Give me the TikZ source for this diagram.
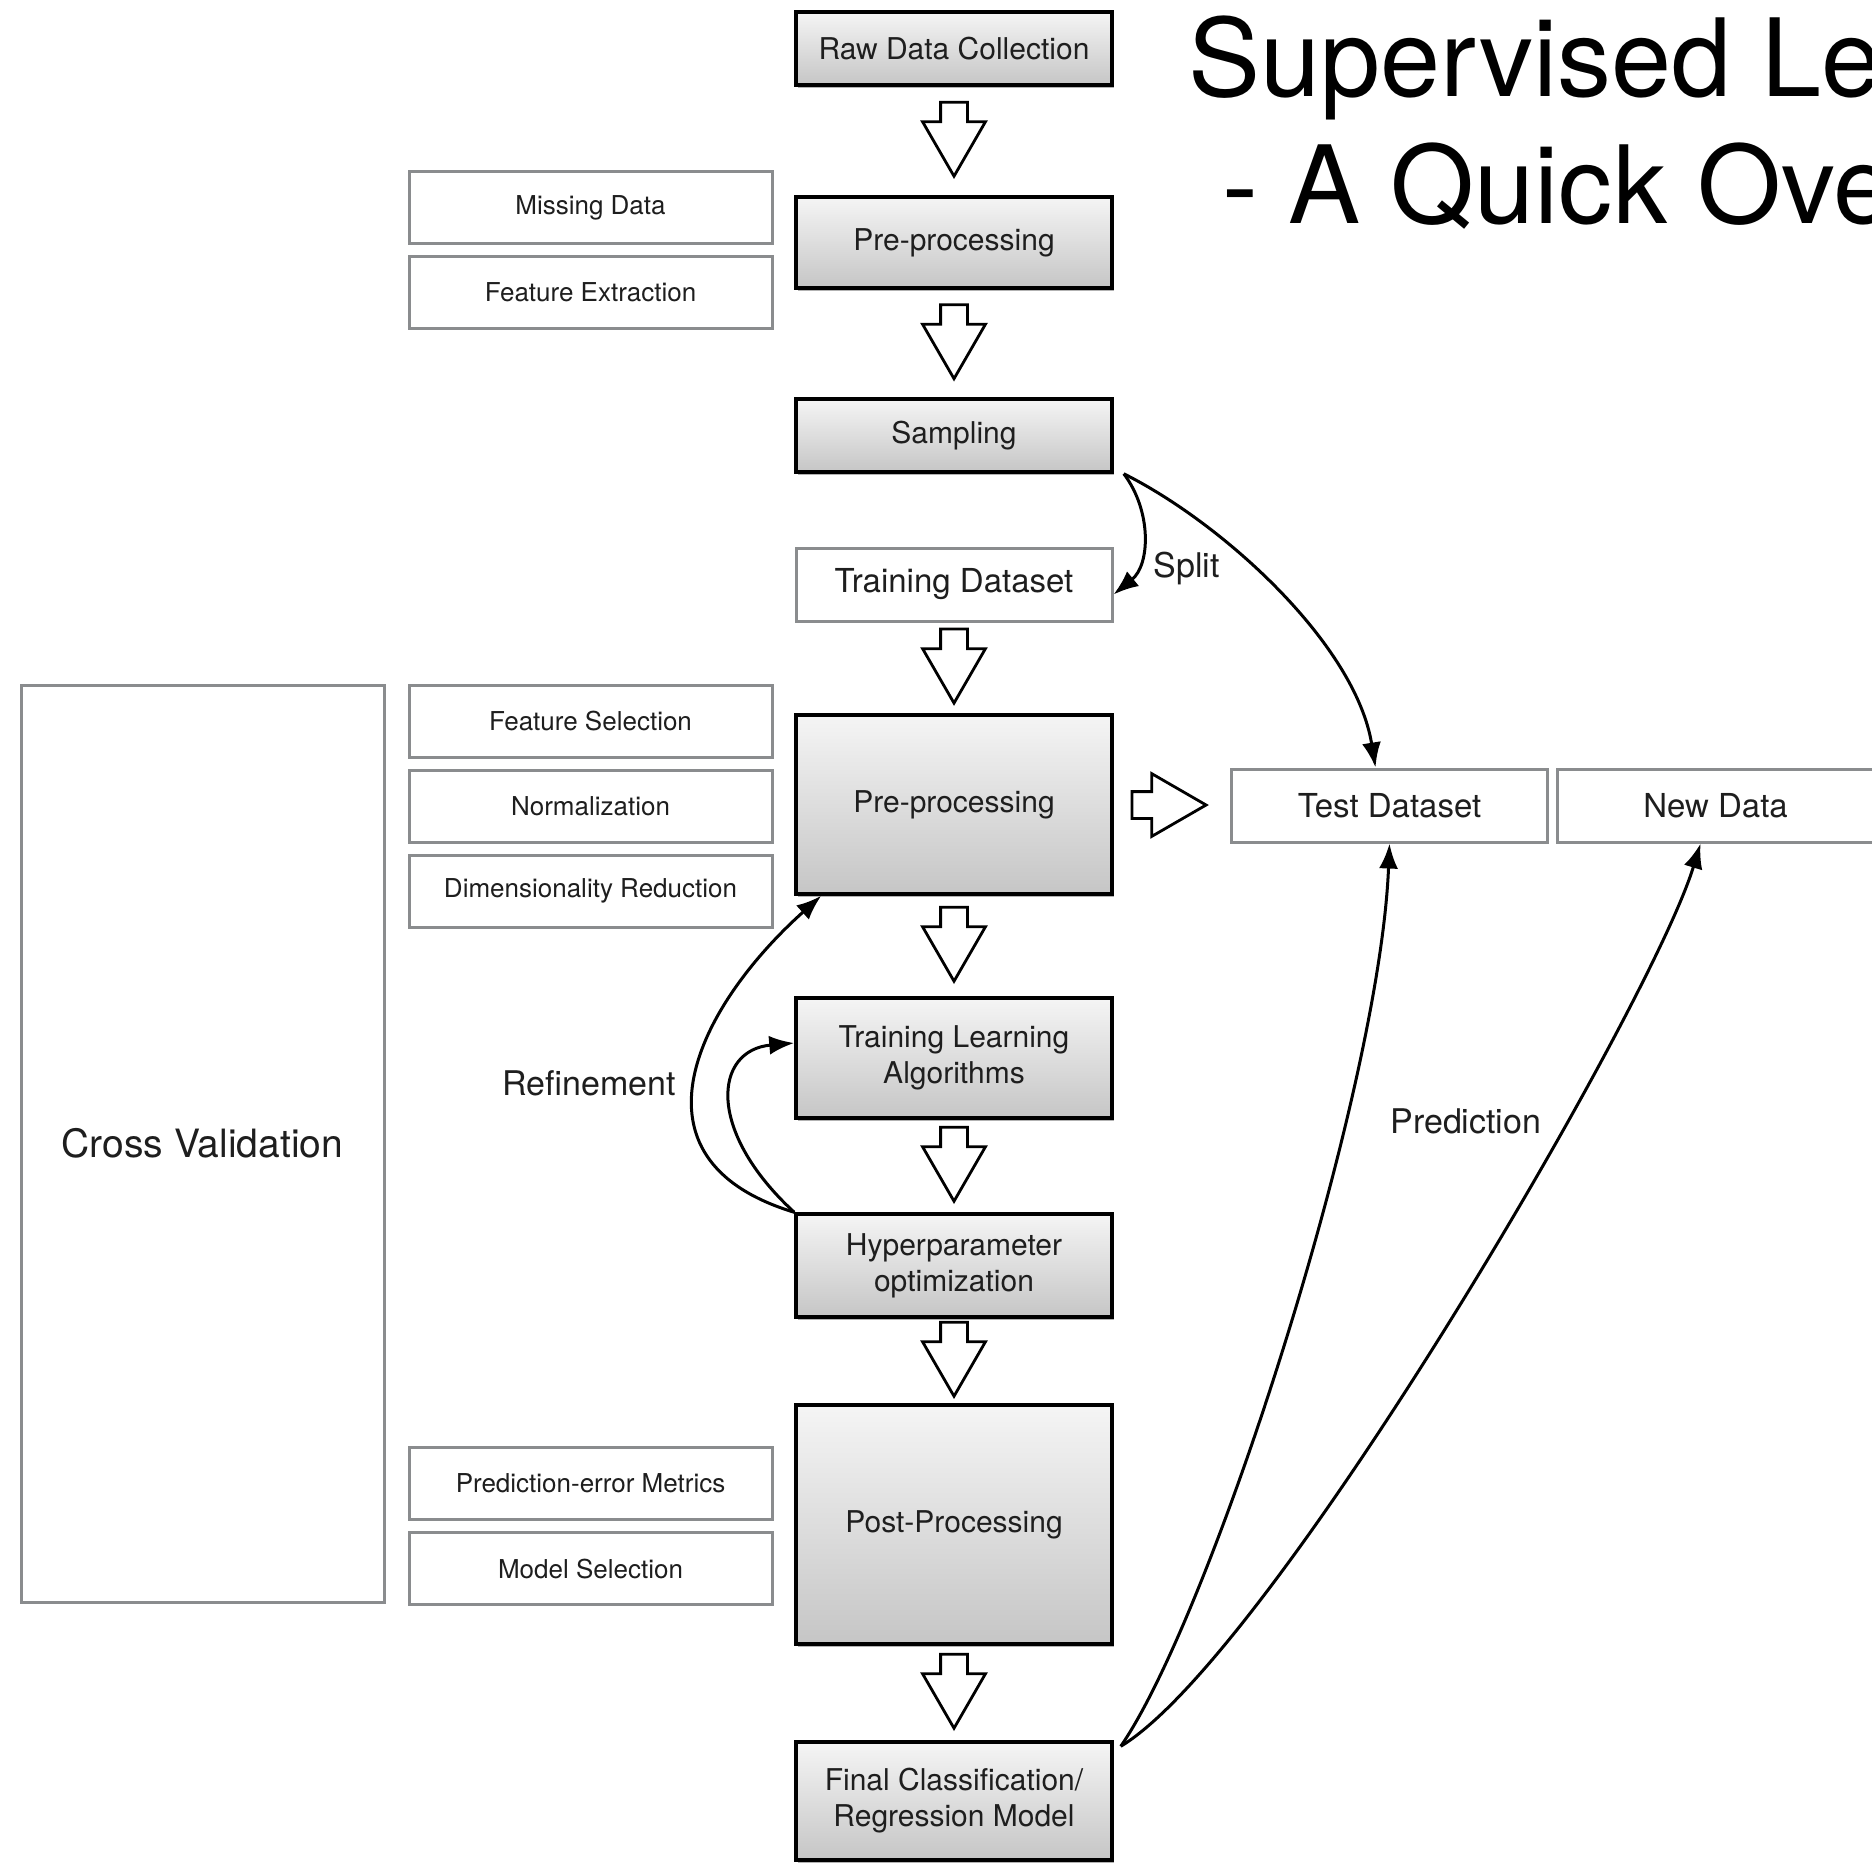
\documentclass[tikz,border=0pt]{standalone}
\usepackage{fontspec}
\setmainfont{TeX Gyre Heros}
\usetikzlibrary{positioning,calc,shapes.arrows,shadows,arrows.meta}

\definecolor{boxgray}{HTML}{8A8C8E}
\definecolor{inkgray}{HTML}{1E1E1E}

\begin{document}
\begin{tikzpicture}[
x=0.5pt, y=-0.5pt,
stage/.style={
  draw=black,
  line width=1.75pt,
  top color=gray!8,
  bottom color=gray!45,
  drop shadow={shadow xshift=1pt, shadow yshift=-1.5pt, opacity=.3, fill=black},
  minimum width=158pt,
  align=center,
  text=inkgray,
  font=\fontsize{15pt}{18pt}\selectfont
  },
task/.style={
  draw=boxgray,
  line width=1.5pt,
  fill=white,
  minimum width=181.5pt,
  minimum height=36pt,
  text=inkgray,
  font=\fontsize{13pt}{15pt}\selectfont
  },
dataset/.style={
  draw=boxgray,
  line width=1.5pt,
  fill=white,
  minimum width=158pt,
  minimum height=36.5pt,
  text=inkgray,
  font=\fontsize{16.5pt}{20pt}\selectfont
  },
flow/.style={
  single arrow,
  draw=black,
  fill=white,
  line width=1.4pt,
  inner xsep=0pt,
  inner ysep=6pt,
  minimum height=37pt,
  minimum width=30pt,
  single arrow head extend=9pt,
  single arrow tip angle=60,
  anchor=tip
  },
lbl/.style={
  inner sep=0pt,
  text=inkgray,
  font=\fontsize{17pt}{20pt}\selectfont
  },
link/.style={->, line width=1.5pt},
>={Latex[length=12.5pt,width=9.5pt]}
]
\useasboundingbox (0,0) rectangle (1872,1864);

% main pipeline
\node[stage, minimum height=36.5pt] (raw) at (954,48.5) {Raw Data Collection};
\node[stage, minimum height=45.5pt] (pre1) at (954,242.5) {Pre-processing};
\node[stage, minimum height=36.5pt] (samp) at (954,435.5) {Sampling};
\node[dataset] (train) at (954,584.5) {Training Dataset};
\node[stage, minimum height=89.5pt] (pre2) at (954,804.5) {Pre-processing};
\node[stage, minimum height=60pt] (tla) at (954,1058) {Training Learning\\Algorithms};
\node[stage, minimum height=51.5pt] (hyp) at (954,1265.5) {Hyperparameter\\optimization};
\node[stage, minimum height=119.5pt] (post) at (954,1524.5) {Post-Processing};
\node[stage, minimum height=59pt] (final) at (954,1801) {Final Classification/\\Regression Model};

% side tasks
\node[task] (miss) at (590.5,207.5) {Missing Data};
\node[task, below=5pt of miss] (fext) {Feature Extraction};
\node[task] (fsel) at (590.5,721) {Feature Selection};
\node[task, below=5pt of fsel] (norm) {Normalization};
\node[task, below=5pt of norm] (dred) {Dimensionality Reduction};
\node[task] (perr) at (590.5,1483.5) {Prediction-error Metrics};
\node[task, below=5pt of perr] (msel) {Model Selection};
\node[task, minimum height=458.5pt, font=\fontsize{19.5pt}{23pt}\selectfont] (cv) at (202.5,1143.5) {Cross Validation};

% data sets
\node[dataset] (test) at (1389.5,805.5) {Test Dataset};
\node[dataset, right=3.5pt of test] (new) {New Data};

% title
\node[anchor=north west, inner sep=0pt, align=center, font=\fontsize{54pt}{63.5pt}\selectfont] (title) at (1188,15) {Supervised Learning\\- A Quick Overview};

% block arrows, tip placed half a length past the middle of each gap
\foreach \a/\b in {raw/pre1,pre1/samp,train/pre2,pre2/tla,tla/hyp,hyp/post,post/final}
  \node[flow, rotate=-90] (arr-\a) at ($(\a.south)!.5!(\b.north)+(0,38)$) {};
\node[flow] (arr-test) at ($(pre2.east)!.5!(test.west)+(37,0)$) {};

% split
\draw[link] ([xshift=5pt]samp.south east) .. controls +(28,37) and +(37,-30) .. ([yshift=-5pt]train.east);
\draw[link] ([xshift=5pt]samp.south east) .. controls +(100,50) and +(-20,-123) .. ([xshift=-7pt]test.north);
\node[lbl, anchor=base west] (splitlbl) at (1153,577) {Split};

% refinement loops
\draw[link] (hyp.north west) .. controls +(-175,-53) and +(-123,110) .. ([xshift=13.5pt]pre2.south west);
\draw[link] (hyp.north west) .. controls +(-89,-82) and +(-80,7) .. ([yshift=7.5pt]tla.west);
\node[lbl, anchor=base east] (reflbl) at (676,1095) {Refinement};

% prediction
\draw[link] ([xshift=3.5pt,yshift=-3pt]final.north east) .. controls +(90,-130) and +(-10,250) .. (test.south);
\draw[link] ([xshift=3.5pt,yshift=-3pt]final.north east) .. controls +(150,-90) and +(-50,164) .. ([xshift=-7.5pt]new.south);
\node[lbl, anchor=base west] (predlbl) at (1390,1133) {Prediction};
\end{tikzpicture}
\end{document}
